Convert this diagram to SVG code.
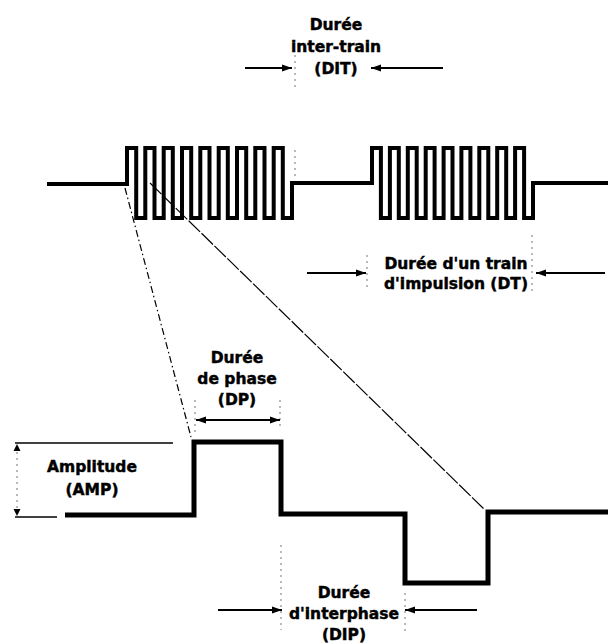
<svg xmlns="http://www.w3.org/2000/svg" width="608" height="643" viewBox="0 0 608 643">
<style>
text{font-family:"DejaVu Sans","Liberation Sans",sans-serif;font-weight:bold;font-size:15.5px;fill:#000;stroke:#000;stroke-width:0.45;text-anchor:middle}
.wave{fill:none;stroke:#000;stroke-linejoin:miter;stroke-linecap:butt}
.arr{stroke:#000;stroke-width:2;fill:none}
.dot{stroke:#000;stroke-width:1;stroke-dasharray:2 4;fill:none;opacity:.55}
.guide{stroke:#000;stroke-width:1.2;fill:none}
</style>
<defs>
<marker id="ah" markerUnits="userSpaceOnUse" markerWidth="11" markerHeight="8" refX="10" refY="4" orient="auto-start-reverse">
<path d="M0,0.5 L10,4 L0,7.5 z" fill="#000"/>
</marker>
</defs>
<rect width="608" height="643" fill="#fff"/>
<g id="train-waveform">
<path class="wave" stroke-width="4" d="M47,184 H127 V148 H136.2 V218 H145.3 V148 H154.5 V218 H163.7 V148 H172.8 V218 H182 V148 H191.2 V218 H200.3 V148 H209.5 V218 H218.7 V148 H227.8 V218 H237 V148 H246.2 V218 H255.3 V148 H264.5 V218 H273.7 V148 H282.8 V218 H292 V183 H372 V148 H380.9 V218 H389.9 V148 H398.8 V218 H407.8 V148 H416.7 V218 H425.7 V148 H434.6 V218 H443.6 V148 H452.5 V218 H461.4 V148 H470.4 V218 H479.3 V148 H488.3 V218 H497.2 V148 H506.2 V218 H515.1 V148 H524.1 V218 H533 V183 H608"/>
</g>
<g id="pulse-waveform">
<path class="wave" stroke-width="5" d="M65,515 H194 V442 H281 V514 H405 V583 H488 V512 H608"/>
</g>
<g id="connectors">
<line class="guide" x1="125" y1="188" x2="191" y2="437" stroke-dasharray="7 3 1.5 3"/>
<line class="guide" x1="150" y1="183" x2="484" y2="509" stroke-dasharray="16 2"/>
<line class="dot" x1="295" y1="55" x2="295" y2="88"/>
<line class="dot" x1="295" y1="150" x2="295" y2="176"/>
<line class="dot" x1="367" y1="255" x2="367" y2="290"/>
<line class="dot" x1="532" y1="235" x2="532" y2="292"/>
<line class="dot" x1="195" y1="400" x2="195" y2="432"/>
<line class="dot" x1="280" y1="400" x2="280" y2="430"/>
<line class="dot" x1="281" y1="545" x2="281" y2="630"/>
<line class="dot" x1="405" y1="593" x2="405" y2="633"/>
<line class="dot" x1="17" y1="452" x2="17" y2="510"/>
<line class="arr" x1="245" y1="68" x2="292" y2="68" marker-end="url(#ah)"/>
<line class="arr" x1="443" y1="68" x2="371" y2="68" marker-end="url(#ah)"/>
<line class="arr" x1="307" y1="273" x2="366" y2="273" marker-end="url(#ah)"/>
<line class="arr" x1="605" y1="273" x2="536" y2="273" marker-end="url(#ah)"/>
<line class="arr" x1="196" y1="420" x2="280" y2="420" marker-start="url(#ah)" marker-end="url(#ah)"/>
<line class="arr" x1="218" y1="610" x2="282" y2="610" marker-end="url(#ah)"/>
<line class="arr" x1="477" y1="610" x2="405" y2="610" marker-end="url(#ah)"/>
<line stroke="#000" stroke-width="1.5" x1="15" y1="443" x2="173" y2="443"/>
<line stroke="#000" stroke-width="1.5" x1="15" y1="517" x2="57" y2="517"/>
<path d="M13.5,451 L17,444 L20.5,451 z" fill="#000"/>
<path d="M13.5,509 L17,516 L20.5,509 z" fill="#000"/>
</g>
<g id="label-DIT">
<text x="336" y="30">Durée</text>
<text x="336" y="52">inter-train</text>
<text x="336" y="74">(DIT)</text>
</g>
<g id="label-DT">
<text x="456" y="269">Durée d'un train</text>
<text x="456" y="289">d'impulsion (DT)</text>
</g>
<g id="label-DP">
<text x="237" y="363">Durée</text>
<text x="237" y="384">de phase</text>
<text x="237" y="405">(DP)</text>
</g>
<g id="label-AMP">
<text x="92" y="472">Amplitude</text>
<text x="92" y="495">(AMP)</text>
</g>
<g id="label-DIP">
<text x="344" y="598">Durée</text>
<text x="344" y="619">d'interphase</text>
<text x="344" y="640">(DIP)</text>
</g>
</svg>
